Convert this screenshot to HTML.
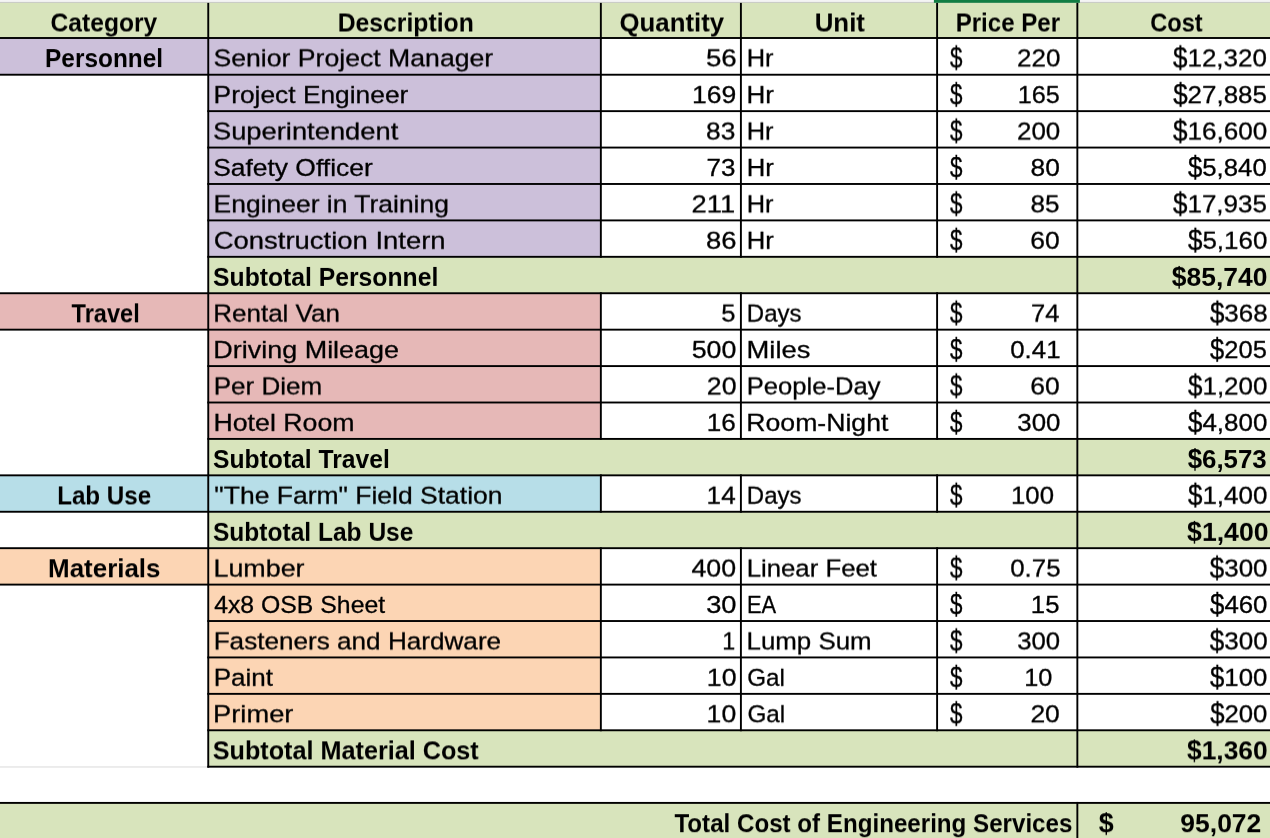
<!DOCTYPE html>
<html lang="en"><head><meta charset="utf-8"><title>Engineering Services Cost Estimate</title>
<style>
html,body{margin:0;padding:0;background:#fff;overflow:hidden;}
#pg{position:absolute;left:0;top:0;width:1270px;height:838px;overflow:hidden;background:#fff;}
body{width:1270px;height:838px;position:relative;overflow:hidden;font-family:"Liberation Sans",sans-serif;font-size:24.5px;color:#000;}
svg{position:absolute;left:0;top:0;}
.t{position:absolute;left:0;top:0;white-space:pre;line-height:1;height:24.5px;transform-origin:0 0;}
.row.b{font-weight:bold;font-size:25px;-webkit-text-stroke:0;}
.d{display:inline-block;transform-origin:0 12.3px;transform:scaleY(1.18);}
.row.b .d{transform-origin:0 13.4px;transform:translateY(-0.6px) scaleY(1.13);}
.row{position:absolute;left:0;top:0;width:1270px;height:32px;will-change:transform;transform-origin:0 0;-webkit-text-stroke:0.3px #000;}
</style></head><body>
<div id="pg">
<svg class="r" width="1270" height="838" viewBox="0 0 1270 838">
<rect x="0.00" y="0.00" width="1270.00" height="1.90" fill="#F4F4F4"/>
<rect x="0.00" y="1.90" width="1270.00" height="1.00" fill="#C4C4C2"/>
<rect x="933.90" y="0.00" width="146.00" height="2.90" fill="#117D43"/>
<rect x="0.00" y="2.90" width="1270.00" height="35.10" fill="#D8E4BC"/>
<rect x="0.00" y="38.00" width="208.25" height="36.72" fill="#CCC0DA"/>
<rect x="208.25" y="38.00" width="392.60" height="218.82" fill="#CCC0DA"/>
<rect x="208.25" y="256.82" width="1061.75" height="36.42" fill="#D8E4BC"/>
<rect x="0.00" y="293.24" width="208.25" height="36.42" fill="#E6B8B7"/>
<rect x="208.25" y="293.24" width="392.60" height="145.68" fill="#E6B8B7"/>
<rect x="208.25" y="438.92" width="1061.75" height="36.42" fill="#D8E4BC"/>
<rect x="0.00" y="475.34" width="208.25" height="36.42" fill="#B7DEE8"/>
<rect x="208.25" y="475.34" width="392.60" height="36.42" fill="#B7DEE8"/>
<rect x="208.25" y="511.76" width="1061.75" height="36.42" fill="#D8E4BC"/>
<rect x="0.00" y="548.18" width="208.25" height="36.42" fill="#FCD5B4"/>
<rect x="208.25" y="548.18" width="392.60" height="182.10" fill="#FCD5B4"/>
<rect x="208.25" y="730.28" width="1061.75" height="36.42" fill="#D8E4BC"/>
<rect x="0.00" y="802.90" width="1270.00" height="35.10" fill="#D8E4BC"/>
<rect x="0.00" y="766.00" width="207.25" height="1.90" fill="#EBEBEB"/>
<rect x="0.00" y="37.05" width="1270.00" height="1.90" fill="#000"/>
<rect x="0.00" y="73.77" width="1270.00" height="1.90" fill="#000"/>
<rect x="207.30" y="110.19" width="1062.70" height="1.90" fill="#000"/>
<rect x="207.30" y="146.61" width="1062.70" height="1.90" fill="#000"/>
<rect x="207.30" y="183.03" width="1062.70" height="1.90" fill="#000"/>
<rect x="207.30" y="219.45" width="1062.70" height="1.90" fill="#000"/>
<rect x="207.30" y="255.87" width="1062.70" height="1.90" fill="#000"/>
<rect x="0.00" y="292.29" width="1270.00" height="1.90" fill="#000"/>
<rect x="0.00" y="328.71" width="1270.00" height="1.90" fill="#000"/>
<rect x="207.30" y="365.13" width="1062.70" height="1.90" fill="#000"/>
<rect x="207.30" y="401.55" width="1062.70" height="1.90" fill="#000"/>
<rect x="207.30" y="437.97" width="1062.70" height="1.90" fill="#000"/>
<rect x="0.00" y="474.39" width="1270.00" height="1.90" fill="#000"/>
<rect x="0.00" y="510.81" width="1270.00" height="1.90" fill="#000"/>
<rect x="0.00" y="547.23" width="1270.00" height="1.90" fill="#000"/>
<rect x="0.00" y="583.65" width="1270.00" height="1.90" fill="#000"/>
<rect x="207.30" y="620.07" width="1062.70" height="1.90" fill="#000"/>
<rect x="207.30" y="656.49" width="1062.70" height="1.90" fill="#000"/>
<rect x="207.30" y="692.91" width="1062.70" height="1.90" fill="#000"/>
<rect x="207.30" y="729.33" width="1062.70" height="1.90" fill="#000"/>
<rect x="207.30" y="765.75" width="1062.70" height="1.90" fill="#000"/>
<rect x="0.00" y="801.95" width="1270.00" height="1.90" fill="#000"/>
<rect x="207.30" y="2.90" width="1.90" height="764.75" fill="#000"/>
<rect x="1076.40" y="2.90" width="1.90" height="764.75" fill="#000"/>
<rect x="1076.40" y="801.95" width="1.90" height="36.05" fill="#000"/>
<rect x="599.90" y="2.90" width="1.90" height="36.05" fill="#000"/>
<rect x="739.95" y="2.90" width="1.90" height="36.05" fill="#000"/>
<rect x="936.15" y="2.90" width="1.90" height="36.05" fill="#000"/>
<rect x="599.90" y="37.05" width="1.90" height="220.72" fill="#000"/>
<rect x="739.95" y="37.05" width="1.90" height="220.72" fill="#000"/>
<rect x="936.15" y="37.05" width="1.90" height="220.72" fill="#000"/>
<rect x="599.90" y="292.29" width="1.90" height="147.58" fill="#000"/>
<rect x="739.95" y="292.29" width="1.90" height="147.58" fill="#000"/>
<rect x="936.15" y="292.29" width="1.90" height="147.58" fill="#000"/>
<rect x="599.90" y="474.39" width="1.90" height="38.32" fill="#000"/>
<rect x="739.95" y="474.39" width="1.90" height="38.32" fill="#000"/>
<rect x="936.15" y="474.39" width="1.90" height="38.32" fill="#000"/>
<rect x="599.90" y="547.23" width="1.90" height="184.00" fill="#000"/>
<rect x="739.95" y="547.23" width="1.90" height="184.00" fill="#000"/>
<rect x="936.15" y="547.23" width="1.90" height="184.00" fill="#000"/>
</svg>
<div class="row b" style="transform:translateY(10.50px) rotate(0.001deg)">
<div class="t" id="h_Category" style="transform:translateX(50.54px) scaleX(0.9845);">Category</div>
<div class="t" id="h_Description" style="transform:translateX(337.70px) scaleX(0.9894);">Description</div>
<div class="t" id="h_Quantity" style="transform:translateX(619.52px) scaleX(1.0311);">Quantity</div>
<div class="t" id="h_Unit" style="transform:translateX(814.69px) scaleX(1.0338);">Unit</div>
<div class="t" id="h_Price_Per" style="transform:translateX(955.70px) scaleX(0.9625);">Price Per</div>
<div class="t" id="h_Cost" style="transform:translateX(1150.14px) scaleX(0.9456);">Cost</div>
</div>
<div class="row b" style="transform:translateY(46.10px) rotate(0.001deg)">
<div class="t" id="cat_Personnel" style="transform:translateX(45.09px) scaleX(0.9757);">Personnel</div>
</div>
<div class="row" style="transform:translateY(46.40px) rotate(0.001deg)">
<div class="t" id="d1" style="transform:translateX(213.42px) scaleX(1.0871);">Senior Project Manager</div>
<div class="t" id="q1" style="transform:translateX(705.95px) scaleX(1.1304);">56</div>
<div class="t" id="u1" style="transform:translateX(746.69px) scaleX(1.0376);">Hr</div>
<div class="t" id="ps1" style="transform-origin:0 12.3px;transform:translate(949.89px,0px) scale(0.9137,1.18);">$</div>
<div class="t" id="p1" style="transform:translateX(1017.07px) scaleX(1.0602);">220</div>
<div class="t" id="c1" style="transform:translateX(1172.94px) scaleX(1.0620);"><span class="d">$</span>12,320</div>
</div>
<div class="row" style="transform:translateY(83.12px) rotate(0.001deg)">
<div class="t" id="d2" style="transform:translateX(213.59px) scaleX(1.0752);">Project Engineer</div>
<div class="t" id="q2" style="transform:translateX(691.88px) scaleX(1.0834);">169</div>
<div class="t" id="u2" style="transform:translateX(746.38px) scaleX(1.0602);">Hr</div>
<div class="t" id="ps2" style="transform-origin:0 12.3px;transform:translate(949.89px,0px) scale(0.9131,1.18);">$</div>
<div class="t" id="p2" style="transform:translateX(1017.79px) scaleX(1.0298);">165</div>
<div class="t" id="c2" style="transform:translateX(1173.18px) scaleX(1.0584);"><span class="d">$</span>27,885</div>
</div>
<div class="row" style="transform:translateY(119.54px) rotate(0.001deg)">
<div class="t" id="d3" style="transform:translateX(212.94px) scaleX(1.1150);">Superintendent</div>
<div class="t" id="q3" style="transform:translateX(705.98px) scaleX(1.0764);">83</div>
<div class="t" id="u3" style="transform:translateX(746.69px) scaleX(1.0374);">Hr</div>
<div class="t" id="ps3" style="transform-origin:0 12.3px;transform:translate(949.90px,0px) scale(0.9151,1.18);">$</div>
<div class="t" id="p3" style="transform:translateX(1016.98px) scaleX(1.0598);">200</div>
<div class="t" id="c3" style="transform:translateX(1172.88px) scaleX(1.0651);"><span class="d">$</span>16,600</div>
</div>
<div class="row" style="transform:translateY(155.96px) rotate(0.001deg)">
<div class="t" id="d4" style="transform:translateX(213.14px) scaleX(1.0783);">Safety Officer</div>
<div class="t" id="q4" style="transform:translateX(706.57px) scaleX(1.0610);">73</div>
<div class="t" id="u4" style="transform:translateX(746.73px) scaleX(1.0482);">Hr</div>
<div class="t" id="ps4" style="transform-origin:0 12.3px;transform:translate(949.88px,0px) scale(0.9136,1.18);">$</div>
<div class="t" id="p4" style="transform:translateX(1030.49px) scaleX(1.0762);">80</div>
<div class="t" id="c4" style="transform:translateX(1187.93px) scaleX(1.0522);"><span class="d">$</span>5,840</div>
</div>
<div class="row" style="transform:translateY(192.38px) rotate(0.001deg)">
<div class="t" id="d5" style="transform:translateX(213.57px) scaleX(1.0800);">Engineer in Training</div>
<div class="t" id="q5" style="transform:translateX(691.60px) scaleX(1.1157);">211</div>
<div class="t" id="u5" style="transform:translateX(746.70px) scaleX(1.0373);">Hr</div>
<div class="t" id="ps5" style="transform-origin:0 12.3px;transform:translate(949.90px,0px) scale(0.9144,1.18);">$</div>
<div class="t" id="p5" style="transform:translateX(1030.40px) scaleX(1.0652);">85</div>
<div class="t" id="c5" style="transform:translateX(1172.99px) scaleX(1.0608);"><span class="d">$</span>17,935</div>
</div>
<div class="row" style="transform:translateY(228.80px) rotate(0.001deg)">
<div class="t" id="d6" style="transform:translateX(213.76px) scaleX(1.1202);">Construction Intern</div>
<div class="t" id="q6" style="transform:translateX(705.97px) scaleX(1.1205);">86</div>
<div class="t" id="u6" style="transform:translateX(746.68px) scaleX(1.0457);">Hr</div>
<div class="t" id="ps6" style="transform-origin:0 12.3px;transform:translate(949.88px,0px) scale(0.9139,1.18);">$</div>
<div class="t" id="p6" style="transform:translateX(1030.33px) scaleX(1.0810);">60</div>
<div class="t" id="c6" style="transform:translateX(1187.94px) scaleX(1.0589);"><span class="d">$</span>5,160</div>
</div>
<div class="row b" style="transform:translateY(264.92px) rotate(0.001deg)">
<div class="t" id="sl7" style="transform:translateX(213.06px) scaleX(0.9886);">Subtotal Personnel</div>
<div class="t" id="st7" style="transform:translateX(1171.83px) scaleX(1.0579);"><span class="d">$</span>85,740</div>
</div>
<div class="row b" style="transform:translateY(301.34px) rotate(0.001deg)">
<div class="t" id="cat_Travel" style="transform:translateX(71.55px) scaleX(0.9428);">Travel</div>
</div>
<div class="row" style="transform:translateY(301.64px) rotate(0.001deg)">
<div class="t" id="d8" style="transform:translateX(213.23px) scaleX(1.0611);">Rental Van</div>
<div class="t" id="q8" style="transform:translateX(721.26px) scaleX(1.0446);">5</div>
<div class="t" id="u8" style="transform:translateX(746.85px) scaleX(0.9791);">Days</div>
<div class="t" id="ps8" style="transform-origin:0 12.3px;transform:translate(949.90px,0px) scale(0.9147,1.18);">$</div>
<div class="t" id="p8" style="transform:translateX(1031.05px) scaleX(1.0435);">74</div>
<div class="t" id="c8" style="transform:translateX(1209.89px) scaleX(1.0612);"><span class="d">$</span>368</div>
</div>
<div class="row" style="transform:translateY(338.06px) rotate(0.001deg)">
<div class="t" id="d9" style="transform:translateX(213.37px) scaleX(1.0996);">Driving Mileage</div>
<div class="t" id="q9" style="transform:translateX(691.64px) scaleX(1.0926);">500</div>
<div class="t" id="u9" style="transform:translateX(746.54px) scaleX(1.1167);">Miles</div>
<div class="t" id="ps9" style="transform-origin:0 12.3px;transform:translate(949.88px,0px) scale(0.9126,1.18);">$</div>
<div class="t" id="p9" style="transform:translateX(1010.23px) scaleX(1.0546);">0.41</div>
<div class="t" id="c9" style="transform:translateX(1210.12px) scaleX(1.0412);"><span class="d">$</span>205</div>
</div>
<div class="row" style="transform:translateY(374.48px) rotate(0.001deg)">
<div class="t" id="d10" style="transform:translateX(213.68px) scaleX(1.0618);">Per Diem</div>
<div class="t" id="q10" style="transform:translateX(706.75px) scaleX(1.0918);">20</div>
<div class="t" id="u10" style="transform:translateX(746.79px) scaleX(1.0443);">People-Day</div>
<div class="t" id="ps10" style="transform-origin:0 12.3px;transform:translate(949.90px,0px) scale(0.9144,1.18);">$</div>
<div class="t" id="p10" style="transform:translateX(1030.32px) scaleX(1.0819);">60</div>
<div class="t" id="c10" style="transform:translateX(1187.97px) scaleX(1.0604);"><span class="d">$</span>1,200</div>
</div>
<div class="row" style="transform:translateY(410.90px) rotate(0.001deg)">
<div class="t" id="d11" style="transform:translateX(213.46px) scaleX(1.0903);">Hotel Room</div>
<div class="t" id="q11" style="transform:translateX(706.78px) scaleX(1.0663);">16</div>
<div class="t" id="u11" style="transform:translateX(746.30px) scaleX(1.0871);">Room-Night</div>
<div class="t" id="ps11" style="transform-origin:0 12.3px;transform:translate(949.89px,0px) scale(0.9125,1.18);">$</div>
<div class="t" id="p11" style="transform:translateX(1017.36px) scaleX(1.0545);">300</div>
<div class="t" id="c11" style="transform:translateX(1187.98px) scaleX(1.0583);"><span class="d">$</span>4,800</div>
</div>
<div class="row b" style="transform:translateY(447.02px) rotate(0.001deg)">
<div class="t" id="sl12" style="transform:translateX(213.09px) scaleX(0.9859);">Subtotal Travel</div>
<div class="t" id="st12" style="transform:translateX(1187.63px) scaleX(1.0343);"><span class="d">$</span>6,573</div>
</div>
<div class="row b" style="transform:translateY(483.44px) rotate(0.001deg)">
<div class="t" id="cat_Lab_Use" style="transform:translateX(57.13px) scaleX(0.9674);">Lab Use</div>
</div>
<div class="row" style="transform:translateY(483.74px) rotate(0.001deg)">
<div class="t" id="d13" style="transform:translateX(214.33px) scaleX(1.0810);">&quot;The Farm&quot; Field Station</div>
<div class="t" id="q13" style="transform:translateX(706.61px) scaleX(1.0662);">14</div>
<div class="t" id="u13" style="transform:translateX(746.85px) scaleX(0.9791);">Days</div>
<div class="t" id="ps13" style="transform-origin:0 12.3px;transform:translate(949.90px,0px) scale(0.9149,1.18);">$</div>
<div class="t" id="p13" style="transform:translateX(1011.06px) scaleX(1.0504);">100</div>
<div class="t" id="c13" style="transform:translateX(1187.91px) scaleX(1.0608);"><span class="d">$</span>1,400</div>
</div>
<div class="row b" style="transform:translateY(519.86px) rotate(0.001deg)">
<div class="t" id="sl14" style="transform:translateX(213.00px) scaleX(0.9815);">Subtotal Lab Use</div>
<div class="t" id="st14" style="transform:translateX(1187.06px) scaleX(1.0654);"><span class="d">$</span>1,400</div>
</div>
<div class="row b" style="transform:translateY(556.28px) rotate(0.001deg)">
<div class="t" id="cat_Materials" style="transform:translateX(48.02px) scaleX(1.0379);">Materials</div>
</div>
<div class="row" style="transform:translateY(556.58px) rotate(0.001deg)">
<div class="t" id="d15" style="transform:translateX(213.43px) scaleX(1.0971);">Lumber</div>
<div class="t" id="q15" style="transform:translateX(691.48px) scaleX(1.0919);">400</div>
<div class="t" id="u15" style="transform:translateX(746.65px) scaleX(1.0512);">Linear Feet</div>
<div class="t" id="ps15" style="transform-origin:0 12.3px;transform:translate(949.90px,0px) scale(0.9151,1.18);">$</div>
<div class="t" id="p15" style="transform:translateX(1010.19px) scaleX(1.0569);">0.75</div>
<div class="t" id="c15" style="transform:translateX(1209.82px) scaleX(1.0589);"><span class="d">$</span>300</div>
</div>
<div class="row" style="transform:translateY(593.00px) rotate(0.001deg)">
<div class="t" id="d16" style="transform:translateX(214.16px) scaleX(1.0122);">4x8 OSB Sheet</div>
<div class="t" id="q16" style="transform:translateX(706.15px) scaleX(1.1119);">30</div>
<div class="t" id="u16" style="transform:translateX(747.01px) scaleX(0.8927);">EA</div>
<div class="t" id="ps16" style="transform-origin:0 12.3px;transform:translate(949.89px,0px) scale(0.9120,1.18);">$</div>
<div class="t" id="p16" style="transform:translateX(1030.84px) scaleX(1.0494);">15</div>
<div class="t" id="c16" style="transform:translateX(1210.01px) scaleX(1.0542);"><span class="d">$</span>460</div>
</div>
<div class="row" style="transform:translateY(629.42px) rotate(0.001deg)">
<div class="t" id="d17" style="transform:translateX(213.67px) scaleX(1.0660);">Fasteners and Hardware</div>
<div class="t" id="q17" style="transform:translateX(722.26px) scaleX(0.9511);">1</div>
<div class="t" id="u17" style="transform:translateX(746.51px) scaleX(1.0566);">Lump Sum</div>
<div class="t" id="ps17" style="transform-origin:0 12.3px;transform:translate(949.89px,0px) scale(0.9150,1.18);">$</div>
<div class="t" id="p17" style="transform:translateX(1017.19px) scaleX(1.0511);">300</div>
<div class="t" id="c17" style="transform:translateX(1209.74px) scaleX(1.0622);"><span class="d">$</span>300</div>
</div>
<div class="row" style="transform:translateY(665.84px) rotate(0.001deg)">
<div class="t" id="d18" style="transform:translateX(213.67px) scaleX(1.0625);">Paint</div>
<div class="t" id="q18" style="transform:translateX(706.75px) scaleX(1.0922);">10</div>
<div class="t" id="u18" style="transform:translateX(747.18px) scaleX(0.9870);">Gal</div>
<div class="t" id="ps18" style="transform-origin:0 12.3px;transform:translate(949.90px,0px) scale(0.9137,1.18);">$</div>
<div class="t" id="p18" style="transform:translateX(1024.18px) scaleX(1.0332);">10</div>
<div class="t" id="c18" style="transform:translateX(1209.96px) scaleX(1.0521);"><span class="d">$</span>100</div>
</div>
<div class="row" style="transform:translateY(702.26px) rotate(0.001deg)">
<div class="t" id="d19" style="transform:translateX(213.09px) scaleX(1.1129);">Primer</div>
<div class="t" id="q19" style="transform:translateX(706.61px) scaleX(1.0864);">10</div>
<div class="t" id="u19" style="transform:translateX(747.39px) scaleX(0.9908);">Gal</div>
<div class="t" id="ps19" style="transform-origin:0 12.3px;transform:translate(949.88px,0px) scale(0.9140,1.18);">$</div>
<div class="t" id="p19" style="transform:translateX(1030.38px) scaleX(1.0821);">20</div>
<div class="t" id="c19" style="transform:translateX(1210.13px) scaleX(1.0506);"><span class="d">$</span>200</div>
</div>
<div class="row b" style="transform:translateY(738.38px) rotate(0.001deg)">
<div class="t" id="sl20" style="transform:translateX(212.76px) scaleX(1.0077);">Subtotal Material Cost</div>
<div class="t" id="st20" style="transform:translateX(1187.00px) scaleX(1.0557);"><span class="d">$</span>1,360</div>
</div>
<div class="row b" style="transform:translateY(811.20px) rotate(0.001deg)">
<div class="t" id="tot_l" style="transform:translateX(674.40px) scaleX(0.9657);">Total Cost of Engineering Services</div>
<div class="t" id="tot_s" style="transform-origin:0 13.4px;transform:translate(1098.82px,-0.6px) scale(1.0751,1.13);">$</div>
<div class="t" id="tot_v" style="transform:translateX(1180.30px) scaleX(1.0598);">95,072</div>
</div>
</div>
</body></html>
